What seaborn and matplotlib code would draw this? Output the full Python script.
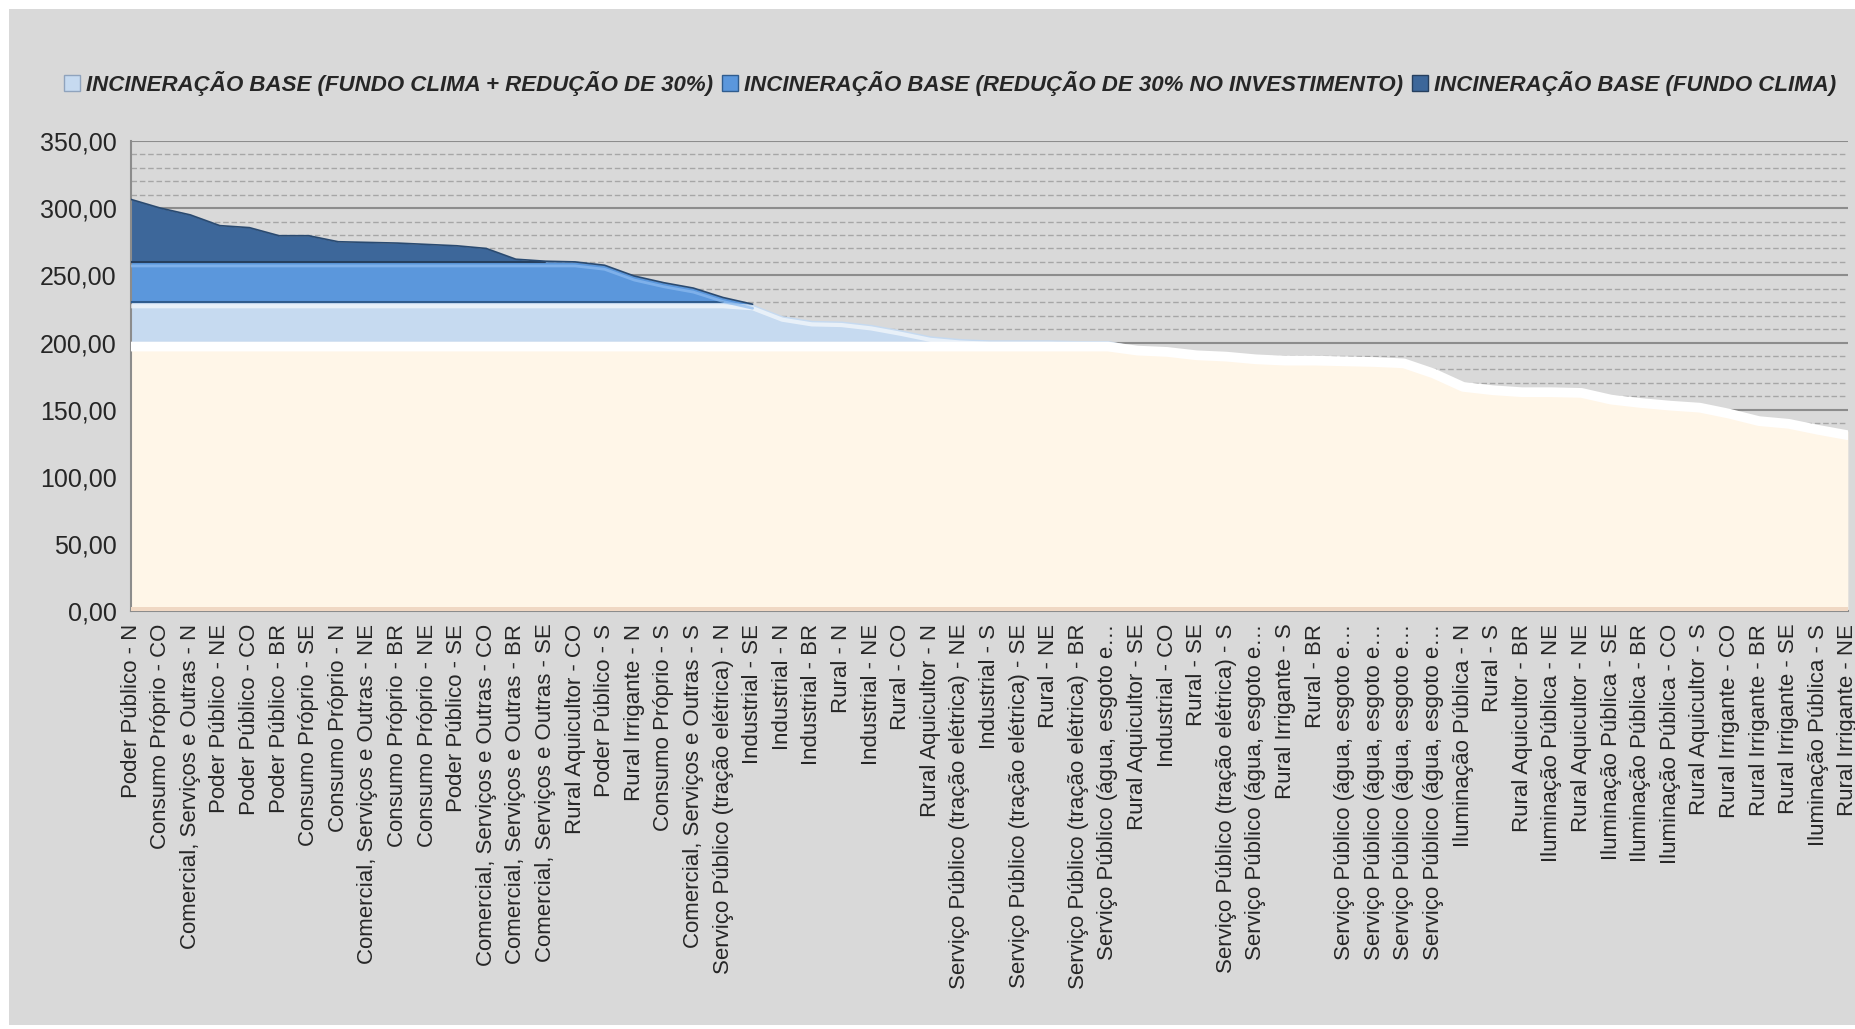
import numpy as np
import pandas as pd
import matplotlib
matplotlib.use("Agg")
import matplotlib.pyplot as plt
import seaborn as sns
from matplotlib.patches import Patch, Rectangle
from matplotlib.ticker import MultipleLocator, FuncFormatter

# -----------------------------
# Dados
# -----------------------------
categorias = [
    "Poder Público - N", "Consumo Próprio - CO", "Comercial, Serviços e Outras - N",
    "Poder Público - NE", "Poder Público - CO", "Poder Público - BR",
    "Consumo Próprio - SE", "Consumo Próprio - N", "Comercial, Serviços e Outras - NE",
    "Consumo Próprio - BR", "Consumo Próprio - NE", "Poder Público - SE",
    "Comercial, Serviços e Outras - CO", "Comercial, Serviços e Outras - BR",
    "Comercial, Serviços e Outras - SE", "Rural Aquicultor - CO", "Poder Público - S",
    "Rural Irrigante - N", "Consumo Próprio - S", "Comercial, Serviços e Outras - S",
    "Serviço Público (tração elétrica) - N", "Industrial - SE", "Industrial - N",
    "Industrial - BR", "Rural - N", "Industrial - NE", "Rural - CO",
    "Rural Aquicultor - N", "Serviço Público (tração elétrica) - NE", "Industrial - S",
    "Serviço Público (tração elétrica) - SE", "Rural - NE",
    "Serviço Público (tração elétrica) - BR", "Serviço Público (água, esgoto e…",
    "Rural Aquicultor - SE", "Industrial - CO", "Rural - SE",
    "Serviço Público (tração elétrica) - S", "Serviço Público (água, esgoto e…",
    "Rural Irrigante - S", "Rural - BR", "Serviço Público (água, esgoto e…",
    "Serviço Público (água, esgoto e…", "Serviço Público (água, esgoto e…",
    "Serviço Público (água, esgoto e…", "Iluminação Pública - N", "Rural - S",
    "Rural Aquicultor - BR", "Iluminação Pública - NE", "Rural Aquicultor - NE",
    "Iluminação Pública - SE", "Iluminação Pública - BR", "Iluminação Pública - CO",
    "Rural Aquicultor - S", "Rural Irrigante - CO", "Rural Irrigante - BR",
    "Rural Irrigante - SE", "Iluminação Pública - S", "Rural Irrigante - NE",
]

tarifa = [
    306.5, 300.0, 295.0, 287.0, 285.5, 279.5, 279.5, 275.0, 274.5, 274.0,
    273.0, 272.0, 270.0, 262.0, 260.5, 260.0, 257.5, 249.5, 244.5, 240.5,
    233.5, 228.5, 220.0, 216.5, 216.0, 213.5, 209.5, 205.0, 203.0, 202.0,
    202.0, 202.0, 201.5, 201.5, 197.0, 196.0, 193.5, 192.5, 190.5, 189.5,
    189.5, 189.0, 188.5, 187.5, 180.0, 170.0, 167.5, 166.0, 166.0, 165.5,
    160.5, 158.0, 156.0, 154.5, 150.0, 144.5, 142.5, 138.0, 134.0,
]

# custos da incineração (patamares)
series = [
    "Incineração base (fundo clima + redução de 30%)",
    "Incineração base (redução de 30% no investimento)",
    "Incineração base (fundo clima)",
]
patamares = [200.0, 230.0, 260.0]

df = pd.DataFrame({"x": np.arange(len(categorias)), "tarifa": tarifa})

# -----------------------------
# Estilo
# -----------------------------
sns.set_style("white")
plt.rcParams["font.family"] = ["Liberation Sans", "DejaVu Sans"]

cor_fundo = "#D9D9D9"
cor_creme = "#FFF6E8"
cores = ["#C6DAF0", "#5B97DC", "#3D679A"]
cores_borda = ["#8FA3BD", "#2F5C8E", "#263F5E"]

fig = plt.figure(figsize=(18.56, 10.29), dpi=100)
fig.patch.set_facecolor("white")
fig.patches.append(Rectangle((0.005, 0.004), 0.995, 0.987, transform=fig.transFigure,
                             facecolor=cor_fundo, edgecolor="none", zorder=-10))

ax = fig.add_axes([0.0706, 0.406, 0.925, 0.457])
ax.set_facecolor(cor_fundo)

x = df["x"].values
y = df["tarifa"].values

# Faixas: creme até 200, depois as tres faixas azuis até a curva
base = np.minimum(y, patamares[0])
ax.fill_between(x, 0, base, color=cor_creme, lw=0, zorder=2)
limites = patamares + [np.inf]
for i in range(3):
    lo = np.minimum(y, limites[i])
    hi = np.minimum(y, limites[i + 1])
    ax.fill_between(x, lo, hi, where=hi > lo, interpolate=True,
                    color=cores[i], lw=0, zorder=2)
    ax.plot(x, np.where(y > limites[i], limites[i], np.nan),
            color=cores_borda[i], lw=1.5, zorder=3)

# brilho na borda superior de cada faixa
brilho = pd.DataFrame({
    "x": x,
    "creme": np.minimum(y, 200) - 3,
    "claro": np.where(y >= 198, np.minimum(y, 230) - 3, np.nan),
    "medio": np.where(y >= 228, np.minimum(y, 260) - 3, np.nan),
})
sns.lineplot(data=brilho, x="x", y="creme", color="white", lw=7, ax=ax, zorder=3)
sns.lineplot(data=brilho, x="x", y="claro", color="white", lw=3, ax=ax, zorder=3,
             alpha=0.6)
sns.lineplot(data=brilho, x="x", y="medio", color="#8DBCF0", lw=2, ax=ax, zorder=3,
             alpha=0.7)
topo = np.where(y >= 228, y, np.nan)
ax.plot(x, topo, color="#2A4A70", lw=1.2, zorder=4)
ax.fill_between(x, 0, 3, color="#F0D8C4", lw=0, zorder=3)

# -----------------------------
# Eixos
# -----------------------------
ax.set_xlim(0, len(categorias) - 1)
ax.set_ylim(0, 350)
ax.yaxis.set_major_locator(MultipleLocator(50))
ax.yaxis.set_minor_locator(MultipleLocator(10))
ax.yaxis.set_major_formatter(FuncFormatter(lambda v, p: f"{v:.2f}".replace(".", ",")))
ax.grid(axis="y", which="major", color="#8C8C8C", lw=1.5, ls="-", zorder=0)
ax.grid(axis="y", which="minor", color="#A6A6A6", lw=1.0, ls=(0, (4, 2)), zorder=0)
ax.set_axisbelow(True)

ax.set_xticks(x)
ax.set_xticklabels(categorias, rotation=90, fontsize=16)
ax.tick_params(axis="y", labelsize=18, length=7, color="#8C8C8C", width=1.5, which="major")
ax.tick_params(axis="y", which="minor", length=0)
ax.tick_params(axis="x", length=6, color="#8C8C8C", width=1.2, pad=3)
ax.set_xlabel("")
ax.set_ylabel("")
for lado in ["top", "right"]:
    ax.spines[lado].set_visible(False)
for lado in ["left", "bottom"]:
    ax.spines[lado].set_color("#8C8C8C")
    ax.spines[lado].set_linewidth(1.5)

# -----------------------------
# Legenda
# -----------------------------
handles = [Patch(facecolor=cores[i], edgecolor=cores_borda[i], lw=1) for i in range(3)]
fig.legend(handles, [s.upper() for s in series], loc="center", ncol=3,
           bbox_to_anchor=(0.512, 0.919), frameon=False, handlelength=0.7,
           handleheight=0.7, handletextpad=0.3, columnspacing=0.4,
           prop={"family": ["Liberation Sans", "DejaVu Sans"],
                 "weight": "bold", "style": "italic", "size": 16})

plt.savefig("out.png", dpi=100, facecolor=fig.get_facecolor())
plt.close()
